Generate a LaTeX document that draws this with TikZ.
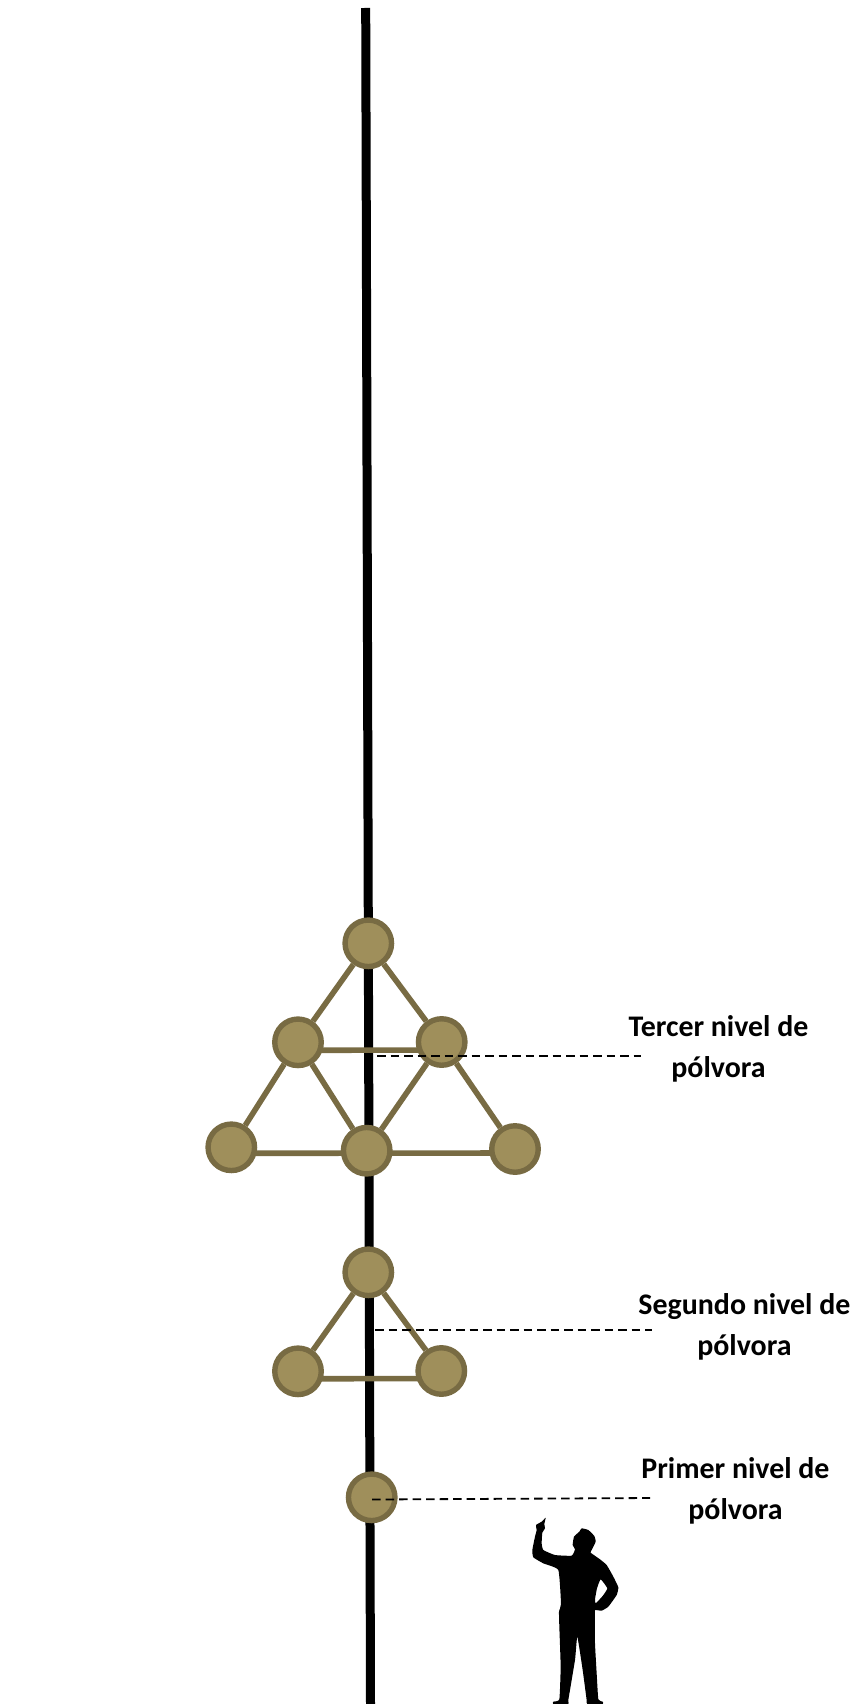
\documentclass[tikz,border=0pt]{standalone}
\usepackage{fontspec}
\setmainfont{Carlito}
\usetikzlibrary{backgrounds,calc}
\definecolor{powderfill}{HTML}{9F8F5B}
\definecolor{powderline}{HTML}{786B43}
\tikzset{
  charge/.style={circle,draw=powderline,fill=powderfill,line width=5.4pt,minimum size=46.5pt,inner sep=0pt},
  fuse/.style={draw=powderline,line width=5.6pt},
  pole/.style={draw=black,line width=9pt},
  leader/.style={draw=black,line width=1.8pt,dash pattern=on 8.5pt off 5pt},
  caption/.style={font=\bfseries\fontsize{29.9}{41.5}\selectfont,align=center,text=black,inner sep=0pt}
}
\begin{document}
\begin{tikzpicture}[x=1pt,y=-1pt]
\useasboundingbox (0,0) rectangle (851,1704);
% charges
\node[charge] (t1) at (368.3,943.3) {};
\node[charge] (t2) at (298,1042.3) {};
\node[charge] (t3) at (441.7,1042) {};
\node[charge] (t4) at (231.3,1147.3) {};
\node[charge] (t5) at (366.7,1150.7) {};
\node[charge] (t6) at (515,1149) {};
\node[charge] (s1) at (368.3,1272.3) {};
\node[charge] (s2) at (298,1371.3) {};
\node[charge] (s3) at (441.3,1371) {};
\node[charge] (p1) at (371.7,1497.3) {};
% pole ends and leader ends
\coordinate (poletop) at (365.7,8);
\coordinate (polebot) at (370.5,1704);
\coordinate (l3a) at (377,1056);
\coordinate (l3b) at (641,1056);
\coordinate (l2a) at (375,1330);
\coordinate (l2b) at (652,1330);
\coordinate (l1a) at (372,1499.5);
\coordinate (l1b) at (650,1498);
\begin{pgfonlayer}{background}
  \draw[pole] (poletop) -- (polebot);
  \draw[fuse] (t1) -- (t2);
  \draw[fuse] (t1) -- (t3);
  \draw[fuse] (t2) -- (t4);
  \draw[fuse] (t2) -- (t5);
  \draw[fuse] (t3) -- (t5);
  \draw[fuse] (t3) -- (t6);
  \draw[fuse] ($(t2)+(0,8)$) -- ($(t3)+(0,8)$);
  \draw[fuse] ($(t4)+(0,6)$) -- ($(t6)+(0,4)$);
  \draw[fuse] (s1) -- (s2);
  \draw[fuse] (s1) -- (s3);
  \draw[fuse] ($(s2)+(0,7.5)$) -- ($(s3)+(0,7.5)$);
\end{pgfonlayer}
\draw[leader] (l3a) -- (l3b);
\draw[leader] (l2a) -- (l2b);
\draw[leader] (l1a) -- (l1b);
% captions
\node[caption] (c3) at (718.5,1049) {Tercer nivel de\\pólvora};
\node[caption] (c2) at (744.4,1327) {Segundo nivel de\\pólvora};
\node[caption] (c1) at (735.5,1491) {Primer nivel de\\pólvora};
% person
\begin{scope}[shift={(500,1500)},x=0.3333pt,y=-0.3333pt]
\fill[black,even odd rule] plot[smooth cycle,tension=0.25] coordinates {
(137,53)(133,72)(135,85)(127,98)(125,130)(130,150)(165,165)(215,167)(225,148)(218,135)(222,110)(238,95)(245,85)(265,90)(283,108)(287,125)(275,150)(272,158)(300,178)(320,195)(340,230)(355,262)(350,285)(325,320)(305,332)(285,330)(285,345)(285,430)(290,520)(295,598)(308,605)(308,612)(262,612)(260,600)(248,510)(232,410)(225,480)(205,600)(205,612)(160,612)(160,605)(178,598)(182,500)(178,380)(177,335)(183,312)(175,210)(130,190)(100,172)(97,150)(105,110)(110,90)(108,75)(125,65)}
plot[smooth cycle,tension=0.25] coordinates {(302,238)(291,265)(285,298)(287,310)(308,288)(322,265)};
\end{scope}
\end{tikzpicture}
\end{document}
